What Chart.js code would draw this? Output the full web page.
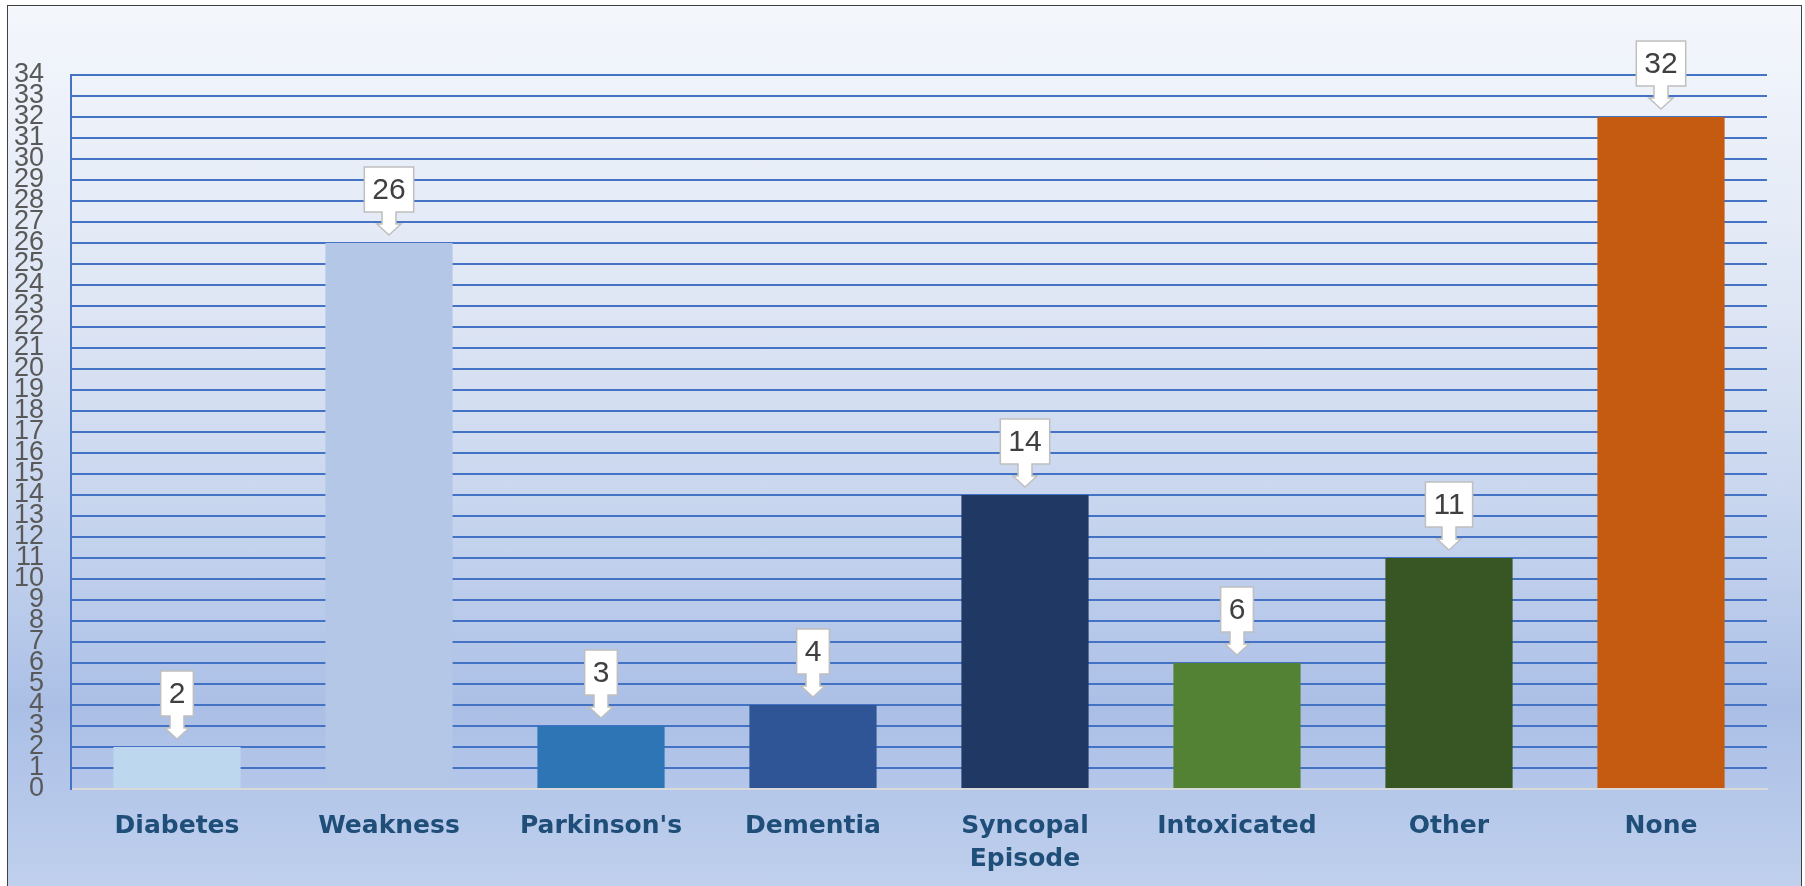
<!DOCTYPE html>
<html>
<head>
<meta charset="utf-8">
<script src="https://cdn.jsdelivr.net/npm/chart.js@4/dist/chart.umd.min.js"></script>
<style>
	html, body { margin: 0; padding: 0; background: #ffffff; overflow: hidden; }
	#frame
	{
		position: absolute; left: 7px; top: 5px; width: 1793px; height: 900px;
		border: 1px solid #404040;
		background: linear-gradient(to bottom, #f4f7fc 0%, #dde5f4 35%, #c3d2ed 60%, #abbfe6 78%, #c2d2ee 100%);
	}
	#chart-canvas { position: absolute; left: 0; top: 0; }
</style>
</head>
<body>
<div id="frame"></div>
<canvas id="chart-canvas" width="1805" height="886"></canvas>
<script>
const categories = ["Diabetes", "Weakness", "Parkinson's", "Dementia", ["Syncopal", "Episode"], "Intoxicated", "Other", "None"];
const counts = [2, 26, 3, 4, 14, 6, 11, 32];
const barColors = ["#bdd7ee", "#b4c7e7", "#2e75b6", "#2f5597", "#203864", "#548235", "#375623", "#c55a11"];
const yTicks = [0, 34, 1];

// callout box with a down arrow over each bar
const calloutLabels =
{
	id: "calloutLabels",
	afterDatasetsDraw(chart)
	{
		const ctx = chart.ctx;
		const meta = chart.getDatasetMeta(0);
		ctx.save();
		ctx.font = "30px 'Liberation Sans', Arial, sans-serif";
		ctx.textAlign = "center";
		ctx.textBaseline = "middle";
		meta.data.forEach((bar, i) =>
		{
			const text = "" + chart.data.datasets[0].data[i];
			const w = ctx.measureText(text).width + 16;
			const h = 45;
			const cx = Math.round(bar.x);
			const tip = bar.y - 8;
			const boxBottom = bar.y - 31;
			const boxTop = boxBottom - h;
			const headTop = boxBottom + 12;
			const sw = 7, hw = 12;
			ctx.beginPath();
			ctx.moveTo(cx - w / 2, boxTop);
			ctx.lineTo(cx + w / 2, boxTop);
			ctx.lineTo(cx + w / 2, boxBottom);
			ctx.lineTo(cx + sw, boxBottom);
			ctx.lineTo(cx + sw, headTop);
			ctx.lineTo(cx + hw, headTop);
			ctx.lineTo(cx, tip);
			ctx.lineTo(cx - hw, headTop);
			ctx.lineTo(cx - sw, headTop);
			ctx.lineTo(cx - sw, boxBottom);
			ctx.lineTo(cx - w / 2, boxBottom);
			ctx.closePath();
			ctx.fillStyle = "#ffffff";
			ctx.fill();
			ctx.lineWidth = 1.5;
			ctx.strokeStyle = "#bfbfbf";
			ctx.stroke();
			ctx.fillStyle = "#404040";
			ctx.fillText(text, cx, boxTop + h / 2 + 1);
		});
		ctx.restore();
	}
};

new Chart(document.getElementById("chart-canvas").getContext("2d"),
{
	type: "bar",
	plugins: [calloutLabels],
	data:
	{
		labels: categories,
		datasets:
		[{
			data: counts,
			backgroundColor: barColors,
			borderWidth: 0,
			barPercentage: 0.6,
			categoryPercentage: 1
		}]
	},
	options:
	{
		responsive: false,
		animation: false,
		layout: { padding: { top: 75, right: 38, left: 0, bottom: 0 } },
		plugins:
		{
			legend: { display: false },
			tooltip: { enabled: false }
		},
		scales:
		{
			x:
			{
				afterFit: (scale) => { scale.height = 97; },
				grid: { display: false, drawTicks: false },
				border: { display: true, color: "#d9d9d9", width: 2 },
				ticks:
				{
					padding: 21,
					maxRotation: 0,
					autoSkip: false,
					color: "#1f4e79",
					font: { family: "'DejaVu Sans', Verdana, sans-serif", size: 25, weight: "bold", lineHeight: 1.32 }
				}
			},
			y:
			{
				min: yTicks[0],
				max: yTicks[1],
				afterFit: (scale) => { scale.width = 71; },
				grid: { color: "#4472c4", lineWidth: 2, drawTicks: false },
				border: { display: true, color: "#4472c4", width: 2 },
				ticks:
				{
					stepSize: yTicks[2],
					autoSkip: false,
					padding: 27,
					color: "#595959",
					font: { family: "'Liberation Sans', Arial, sans-serif", size: 27 }
				}
			}
		}
	}
});
</script>
</body>
</html>
